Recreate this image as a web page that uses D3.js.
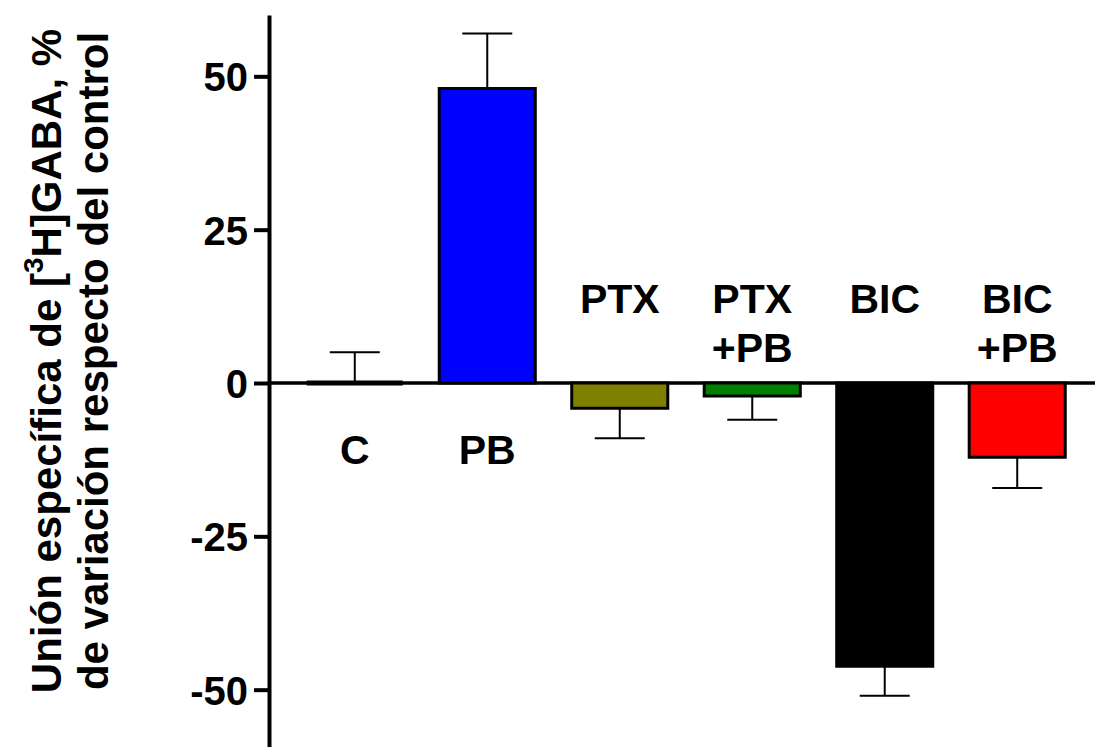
<!DOCTYPE html>
<html>
<head>
<meta charset="utf-8">
<script src="https://cdn.jsdelivr.net/npm/d3@7"></script>
<style>
    body { margin: 0; background: #fff; }
    svg { display: block; font-family: "Liberation Sans", Arial, sans-serif; font-weight: bold; }
</style>
</head>
<body>
<div id="chart"></div>
<script>
// Data
const categories = ["C", "PB", "PTX", "PTX+PB", "BIC", "BIC+PB"];
const labelLines = [["C"], ["PB"], ["PTX"], ["PTX", "+PB"], ["BIC"], ["BIC", "+PB"]];
const means = [0, 48, -4.1, -2.1, -46.2, -12.1];
const sems = [5, 9, 4.9, 3.9, 4.8, 5];
const colors = ["#ffffff", "#0000ff", "#808000", "#008000", "#000000", "#ff0000"];
const yTicks = [-50, -25, 0, 25, 50];

const width = 1095, height = 747;

const svg = d3.select("#chart").append("svg")
    .attr("width", width)
    .attr("height", height);

const y = d3.scaleLinear().domain([-60, 60]).range([751, 15]);
const x = d3.scaleBand()
    .domain(categories)
    .range([267, 1105])
    .paddingInner(0.275)
    .paddingOuter(0.3);

const axisX = 269;
const y0 = y(0);

// zero line
svg.append("line")
    .attr("x1", axisX).attr("x2", width)
    .attr("y1", y0).attr("y2", y0)
    .attr("stroke", "#000")
    .attr("stroke-width", 3.5);

const rows = categories.map((c, i) => ({
    cat: c, lines: labelLines[i], mean: means[i], sem: sems[i], color: colors[i]
}));

// bars (paths so a zero-height bar still shows its outline)
svg.append("g").selectAll("path.bar")
    .data(rows)
    .join("path")
    .attr("class", "bar")
    .attr("d", d => {
        const p = d3.path();
        const x1 = x(d.cat), x2 = x1 + x.bandwidth();
        p.moveTo(x1, y0);
        p.lineTo(x2, y0);
        p.lineTo(x2, y(d.mean));
        p.lineTo(x1, y(d.mean));
        p.closePath();
        return p.toString();
    })
    .attr("fill", d => d.color)
    .attr("stroke", "#000")
    .attr("stroke-width", d => d.mean === 0 ? 5 : 3);

// error bars, one-sided away from zero
const capW = 50;
const err = svg.append("g").selectAll("g.err")
    .data(rows)
    .join("g")
    .attr("class", "err")
    .attr("stroke", "#000")
    .attr("stroke-width", 2);

err.append("line")
    .attr("x1", d => x(d.cat) + x.bandwidth() / 2)
    .attr("x2", d => x(d.cat) + x.bandwidth() / 2)
    .attr("y1", d => y(d.mean))
    .attr("y2", d => y(d.mean >= 0 ? d.mean + d.sem : d.mean - d.sem));

err.append("line")
    .attr("x1", d => x(d.cat) + x.bandwidth() / 2 - capW / 2)
    .attr("x2", d => x(d.cat) + x.bandwidth() / 2 + capW / 2)
    .attr("y1", d => y(d.mean >= 0 ? d.mean + d.sem : d.mean - d.sem))
    .attr("y2", d => y(d.mean >= 0 ? d.mean + d.sem : d.mean - d.sem));

// category labels: below the axis for positive bars, above for negative ones
const lab = svg.append("g").selectAll("text.cat")
    .data(rows)
    .join("text")
    .attr("class", "cat")
    .attr("text-anchor", "middle")
    .attr("font-size", 41)
    .attr("fill", "#000");

lab.each(function(d) {
    const t = d3.select(this);
    const cx = x(d.cat) + x.bandwidth() / 2;
    d.lines.forEach((line, k) => {
        const by = d.mean >= 0 ? y0 + 81 + k * 49 : y0 - 70 + k * 49;
        t.append("tspan").attr("x", cx).attr("y", by).text(line);
    });
});

// y axis
const yAxis = d3.axisLeft(y)
    .tickValues(yTicks)
    .tickSize(15)
    .tickSizeOuter(0)
    .tickPadding(6)
    .tickFormat(d => String(d));

const gy = svg.append("g")
    .attr("transform", `translate(${axisX},0)`)
    .call(yAxis);

gy.select(".domain").attr("stroke-width", 4);
gy.selectAll(".tick line").attr("stroke-width", 4);
gy.selectAll(".tick text")
    .attr("font-size", 40)
    .attr("font-family", "'Liberation Sans', Arial, sans-serif")
    .attr("font-weight", "bold")
    .attr("dy", "0.36em");

// y axis title, two rotated lines
const title = svg.append("text")
    .attr("transform", "translate(0,361) rotate(-90)")
    .attr("text-anchor", "middle")
    .attr("font-size", 42)
    .attr("fill", "#000");

const line1 = title.append("tspan").attr("x", 0).attr("y", 61);
line1.append("tspan").text("Unión específica de [");
line1.append("tspan").attr("font-size", 28).attr("dy", -18).text("3");
line1.append("tspan").attr("dy", 18).text("H]GABA, %");

title.append("tspan").attr("x", 0).attr("y", 108).text("de variación respecto del control");
</script>
</body>
</html>
